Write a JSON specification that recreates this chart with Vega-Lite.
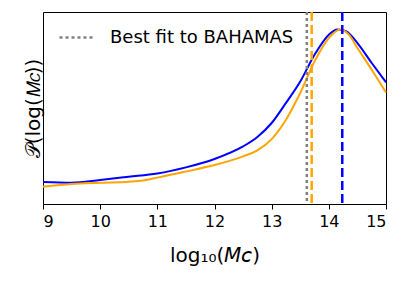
{
  "$schema": "https://vega.github.io/schema/vega-lite/v6.json",
  "width": 343,
  "height": 192,
  "autosize": "none",
  "padding": {"left": 43, "top": 12, "right": 25, "bottom": 81},
  "background": "white",
  "config": {
    "view": {"stroke": "black", "strokeWidth": 1},
    "font": "DejaVu Sans",
    "axis": {"grid": false, "domain": false, "labelColor": "black", "titleColor": "black", "titleFontWeight": "normal"}
  },
  "datasets": {
    "curves": [
      {"x": 9.0, "y": 0.126, "series": "blue"},
      {"x": 9.5, "y": 0.122, "series": "blue"},
      {"x": 10.0, "y": 0.1375, "series": "blue"},
      {"x": 10.5, "y": 0.156, "series": "blue"},
      {"x": 11.0, "y": 0.175, "series": "blue"},
      {"x": 11.5, "y": 0.21, "series": "blue"},
      {"x": 12.0, "y": 0.258, "series": "blue"},
      {"x": 12.5, "y": 0.33, "series": "blue"},
      {"x": 12.75, "y": 0.384, "series": "blue"},
      {"x": 13.0, "y": 0.464, "series": "blue"},
      {"x": 13.25, "y": 0.579, "series": "blue"},
      {"x": 13.5, "y": 0.702, "series": "blue"},
      {"x": 13.75, "y": 0.855, "series": "blue"},
      {"x": 14.0, "y": 0.97, "series": "blue"},
      {"x": 14.15, "y": 1.0, "series": "blue"},
      {"x": 14.3, "y": 0.99, "series": "blue"},
      {"x": 14.5, "y": 0.922, "series": "blue"},
      {"x": 14.75, "y": 0.808, "series": "blue"},
      {"x": 15.0, "y": 0.697, "series": "blue"},
      {"x": 9.0, "y": 0.099, "series": "orange"},
      {"x": 9.5, "y": 0.115, "series": "orange"},
      {"x": 10.0, "y": 0.122, "series": "orange"},
      {"x": 10.5, "y": 0.128, "series": "orange"},
      {"x": 10.75, "y": 0.135, "series": "orange"},
      {"x": 11.0, "y": 0.151, "series": "orange"},
      {"x": 11.5, "y": 0.186, "series": "orange"},
      {"x": 12.0, "y": 0.223, "series": "orange"},
      {"x": 12.5, "y": 0.273, "series": "orange"},
      {"x": 12.75, "y": 0.307, "series": "orange"},
      {"x": 13.0, "y": 0.372, "series": "orange"},
      {"x": 13.25, "y": 0.483, "series": "orange"},
      {"x": 13.5, "y": 0.636, "series": "orange"},
      {"x": 13.75, "y": 0.817, "series": "orange"},
      {"x": 14.0, "y": 0.951, "series": "orange"},
      {"x": 14.2, "y": 1.0, "series": "orange"},
      {"x": 14.35, "y": 0.97, "series": "orange"},
      {"x": 14.5, "y": 0.894, "series": "orange"},
      {"x": 14.75, "y": 0.769, "series": "orange"},
      {"x": 15.0, "y": 0.639, "series": "orange"}
    ],
    "peaks": [
      {"x": 13.7, "series": "orange"},
      {"x": 14.235, "series": "blue"}
    ],
    "bestfit": [
      {"x": 13.615, "label": "Best fit to BAHAMAS"}
    ]
  },
  "layer": [
    {
      "data": {"name": "curves"},
      "mark": {"type": "line", "strokeWidth": 2, "interpolate": "monotone"},
      "encoding": {
        "x": {"field": "x", "type": "quantitative", "scale": {"domain": [9, 15], "nice": false, "zero": false},
          "axis": {"values": [9, 10, 11, 12, 13, 14, 15], "format": "d", "tickSize": 5, "tickColor": "black", "labelFontSize": 16, "labelPadding": 4,
            "title": "log₁₀(𝘔𝘤)", "titleFontSize": 20, "titlePadding": 16}},
        "y": {"field": "y", "type": "quantitative", "scale": {"domain": [0, 1.1], "nice": false},
          "axis": {"ticks": false, "labels": false, "title": "𝒫(log(𝘔𝘤))", "titleFontSize": 20, "titlePadding": 0}},
        "color": {"field": "series", "type": "nominal", "scale": {"domain": ["blue", "orange"], "range": ["#0000ff", "#ffa500"]}, "legend": null},
        "detail": {"field": "series"}
      }
    },
    {
      "data": {"name": "peaks"},
      "mark": {"type": "rule", "strokeWidth": 2.5, "strokeDash": [9, 4]},
      "encoding": {
        "x": {"field": "x", "type": "quantitative"},
        "color": {"field": "series", "type": "nominal", "legend": null}
      }
    },
    {
      "data": {"name": "bestfit"},
      "mark": {"type": "rule", "strokeWidth": 2.5, "color": "#808080"},
      "encoding": {
        "x": {"field": "x", "type": "quantitative"},
        "strokeDash": {"field": "label", "type": "nominal", "scale": {"range": [[3, 3]]},
          "legend": {"title": null, "orient": "none", "legendX": 15, "legendY": 6, "symbolType": "stroke", "symbolSize": 1296, "symbolStrokeWidth": 2.5, "symbolStrokeColor": "#808080", "labelFontSize": 18, "labelColor": "black", "labelOffset": 13, "labelLimit": 400}}
      }
    }
  ]
}
